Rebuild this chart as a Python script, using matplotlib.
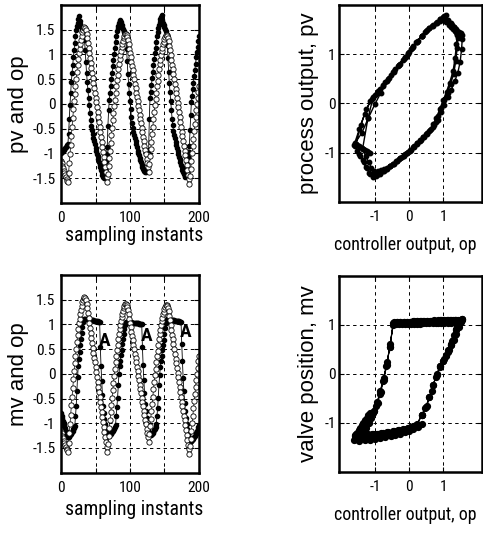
import numpy as np
import matplotlib
matplotlib.use("Agg")
import matplotlib.pyplot as plt
from matplotlib import font_manager

# Amostras (instantes de amostragem)
amostras = np.arange(0, 201)

# Saída do controlador (op)
op = [-1.15, -1.20, -1.25, -1.30, -1.35, -1.40, -1.44, -1.48, -1.52, -1.55, -1.58,
      -1.39, -1.20, -1.01, -0.83, -0.64, -0.46, -0.29, -0.11, 0.05, 0.21, 0.36, 0.51,
      0.65, 0.78, 0.91, 1.02, 1.12, 1.22, 1.30, 1.38,
      1.45, 1.50, 1.54, 1.55, 1.53, 1.49,
      1.42, 1.33, 1.23, 1.13, 1.03, 0.93, 0.83, 0.73, 0.63, 0.53, 0.43, 0.33, 0.23,
      0.13, 0.03, -0.07, -0.17, -0.27, -0.37, -0.47, -0.57, -0.67, -0.77, -0.87, -0.97,
      -1.07, -1.17, -1.27, -1.37, -1.47, -1.58,
      -1.42, -1.26, -1.10, -0.94, -0.78, -0.63, -0.48, -0.33, -0.18, -0.04, 0.09, 0.23,
      0.36, 0.48, 0.59, 0.70, 0.81, 0.90, 0.99, 1.07, 1.15, 1.22, 1.28, 1.33, 1.38,
      1.41, 1.42, 1.40, 1.36, 1.30,
      1.21, 1.12, 1.03, 0.94, 0.85, 0.77, 0.68, 0.59, 0.50, 0.41, 0.32, 0.23, 0.14,
      0.05, -0.04, -0.13, -0.22, -0.31, -0.39, -0.48, -0.57, -0.66, -0.75, -0.84, -0.93,
      -1.02, -1.11, -1.19, -1.28, -1.37,
      -1.21, -1.06, -0.91, -0.76, -0.60, -0.46, -0.31, -0.17, -0.03, 0.10, 0.23, 0.36,
      0.47, 0.59, 0.70, 0.80, 0.89, 0.98, 1.06, 1.14, 1.21, 1.26, 1.32, 1.36,
      1.39, 1.40, 1.38, 1.34, 1.28,
      1.18, 1.09, 0.99, 0.89, 0.79, 0.70, 0.60, 0.51, 0.41, 0.31, 0.22, 0.12, 0.02,
      -0.07, -0.17, -0.27, -0.36, -0.46, -0.56, -0.65, -0.75, -0.85, -0.94, -1.04, -1.14,
      -1.23, -1.33, -1.43, -1.52, -1.62,
      -1.46, -1.31, -1.15, -1.00, -0.85, -0.70, -0.55, -0.41, -0.27, -0.13, 0.00, 0.12,
      0.25, 0.36]

# Saída do processo (pv)
pv = [-1.00, -0.98, -0.96, -0.94, -0.92, -0.90, -0.88, -0.86, -0.84, -0.82, -0.80,
      -0.60, -0.30, -0.02, 0.22, 0.45, 0.63, 0.79, 0.95, 1.10, 1.24, 1.37, 1.49, 1.57,
      1.64, 1.71, 1.77,
      1.68, 1.61, 1.55, 1.50, 1.46, 1.43, 1.40,
      1.30, 1.10, 0.85, 0.62, 0.45, 0.28, 0.12, -0.03, -0.18, -0.33,
      -0.44, -0.53, -0.61, -0.68, -0.75, -0.81, -0.88, -0.95, -1.01, -1.06,
      -1.12, -1.18, -1.23, -1.28, -1.33, -1.38, -1.43, -1.47, -1.49, -1.42,
      -1.30, -1.16, -1.02, -0.87,
      -0.44, -0.12, 0.08, 0.22, 0.36, 0.50, 0.63, 0.76, 0.89, 1.01, 1.13, 1.25, 1.37,
      1.47, 1.54, 1.58, 1.63, 1.67, 1.69,
      1.65, 1.60, 1.55, 1.51, 1.48, 1.45, 1.42,
      1.32, 1.12, 0.86, 0.60, 0.40, 0.22, 0.06, -0.10, -0.26, -0.38,
      -0.48, -0.56, -0.63, -0.69, -0.75, -0.81, -0.87, -0.94, -0.99, -1.04,
      -1.09, -1.14, -1.18, -1.23, -1.27, -1.31, -1.34, -1.36, -1.38, -1.38,
      -1.31, -1.20, -1.07, -0.93,
      -0.30, 0.12, 0.25, 0.38, 0.52, 0.65, 0.78, 0.90, 1.02, 1.14, 1.25, 1.37, 1.46,
      1.54, 1.60, 1.66, 1.71, 1.76, 1.79,
      1.70, 1.64, 1.60, 1.55, 1.51, 1.48, 1.40,
      1.20, 0.92, 0.65, 0.42, 0.24, 0.06, -0.12, -0.30, -0.42, -0.55,
      -0.62, -0.69, -0.76, -0.82, -0.89, -0.96, -1.01, -1.07, -1.12, -1.17,
      -1.23, -1.28, -1.33, -1.38, -1.42, -1.46, -1.48, -1.43, -1.32, -1.20,
      -1.08, -0.97, -0.85,
      -0.52, -0.22, 0.04, 0.17, 0.30, 0.43, 0.57, 0.69, 0.81, 0.94, 1.05, 1.16, 1.27, 1.37]

# Posição da válvula (mv)
mv = [-0.80, -0.85, -0.90, -0.95, -1.00, -1.05, -1.10, -1.15, -1.20, -1.24, -1.28,
      -1.27, -1.25, -1.23, -1.21, -1.19, -1.17, -1.15, -1.12, -1.09, -1.05,
      -0.85, -0.66, -0.35, -0.06, 0.15, 0.30, 0.45, 0.58, 0.70, 0.82, 0.95, 1.05, 1.10,
      1.12, 1.12, 1.11, 1.11, 1.11, 1.10, 1.10, 1.10, 1.09, 1.09, 1.09, 1.08,
      1.08, 1.08, 1.07, 1.07, 1.07, 1.06, 1.06, 1.06, 1.05, 1.05, 1.04,
      0.55, 0.15, -0.15, -0.42, -0.65, -0.80, -0.92, -1.02, -1.11, -1.19, -1.26,
      -1.26, -1.25, -1.24, -1.22, -1.21, -1.19, -1.17, -1.15, -1.13, -1.11, -1.08, -1.04,
      -0.85, -0.68, -0.48, -0.22, 0.00, 0.15, 0.27, 0.38, 0.49, 0.60, 0.70, 0.80, 0.90,
      0.98, 1.04,
      1.05, 1.05, 1.05, 1.04, 1.04, 1.04, 1.04, 1.04, 1.03, 1.03, 1.03, 1.03,
      1.03, 1.02, 1.02, 1.02, 1.02, 1.02, 1.01, 1.01, 1.01, 1.01, 1.00,
      0.55, 0.18, -0.12, -0.38, -0.60, -0.76, -0.90, -1.01, -1.11, -1.20,
      -1.24, -1.24, -1.23, -1.22, -1.21, -1.19, -1.17, -1.14, -1.11, -1.07, -1.02,
      -0.85, -0.70, -0.48, -0.22, -0.02, 0.14, 0.26, 0.37, 0.48, 0.59, 0.68, 0.80, 0.92,
      1.02, 1.08,
      1.10, 1.10, 1.10, 1.09, 1.09, 1.09, 1.09, 1.08, 1.08, 1.08, 1.08,
      1.07, 1.07, 1.07, 1.07, 1.06, 1.06, 1.06, 1.05, 1.05, 1.05,
      0.60, 0.25, -0.08, -0.35, -0.58, -0.76, -0.90, -1.02, -1.12, -1.22, -1.30, -1.36,
      -1.37, -1.36, -1.35, -1.33, -1.31, -1.29, -1.27, -1.25, -1.22, -1.19, -1.16,
      -1.12, -1.08, -1.03]

# Marcas "A" nos saltos da válvula
marca_A_x = [63.5, 124, 181]
marca_A_y = [0.67, 0.77, 0.85]


def fonte_estreita():
    # procura uma sans estreita instalada; senão usa a normal
    fontes = font_manager.fontManager.ttflist
    nomes = {f.name for f in fontes}
    for nome in ['Roboto Condensed', 'Liberation Sans Narrow', 'Arial Narrow',
                 'Noto Sans Condensed', 'Open Sans Condensed', 'DejaVu Sans Condensed']:
        if nome in nomes:
            return nome, 'normal'
    for nome in ['Roboto', 'Liberation Sans', 'Noto Sans', 'Open Sans', 'DejaVu Sans']:
        for f in fontes:
            if f.name == nome and str(f.stretch) in ('condensed', 'semi-condensed',
                                                      'extra-condensed'):
                return nome, str(f.stretch)
    return 'Liberation Sans', 'normal'


familia, estiramento = fonte_estreita()
plt.rcParams['font.family'] = [familia, 'Liberation Sans', 'DejaVu Sans']
plt.rcParams['font.stretch'] = estiramento
fonte_v = ['Liberation Sans', 'DejaVu Sans']

fig = plt.figure(figsize=(4.83, 5.34), dpi=100)

# Tamanhos de fonte pela largura dos textos
renderer = fig.canvas.get_renderer()


def largura(texto, tam):
    t = fig.text(0, 0, texto, fontsize=tam)
    w = t.get_window_extent(renderer).width
    t.remove()
    return w


tam_tempo = min(16.5, 10 * 138 / largura('sampling instants', 10))
tam_op = min(16.5, 10 * 143 / largura('controller output, op', 10))
tam_tick = min(13.5, 10 * 23 / largura('-0.5', 10))


def prepara(ax, xlim, xticks, xrot, ylim, yticks, yrot, titulo_x, titulo_y,
            tam_x, pos_x, pos_y, pad_y):
    ax.set_xlim(*xlim)
    ax.set_ylim(*ylim)
    ax.set_xticks(xticks)
    ax.set_xticklabels(xrot)
    ax.set_yticks(yticks)
    ax.set_yticklabels(yrot)
    ax.tick_params(direction='in', length=3.5, width=0.8, top=True, right=True,
                   labelsize=tam_tick)
    ax.tick_params(axis='x', pad=6)
    ax.tick_params(axis='y', pad=pad_y)
    ax.grid(True, color='k', linestyle=(0, (3.5, 3.5)), linewidth=0.7)
    for s in ax.spines.values():
        s.set_linewidth(1.8)
    ax.set_xlabel(titulo_x, fontsize=tam_x)
    ax.xaxis.set_label_coords(*pos_x)
    ax.xaxis.label.set_va('center')
    ax.set_ylabel(titulo_y, fontsize=16, family=fonte_v, stretch='normal')
    ax.yaxis.set_label_coords(*pos_y)
    ax.yaxis.label.set_va('center')


ax_tl = fig.add_axes([0.1263, 0.6199, 0.2857, 0.3708])
ax_tr = fig.add_axes([0.7025, 0.6223, 0.2948, 0.3683])
ax_bl = fig.add_axes([0.1263, 0.1148, 0.2857, 0.3702])
ax_br = fig.add_axes([0.7025, 0.1167, 0.2948, 0.3665])

t_ticks = [0, 50, 100, 150, 200]
t_rot = ['0', '', '100', '', '200']
y_ticks = [-1.5, -1, -0.5, 0, 0.5, 1, 1.5]
y_rot = ['-1.5', '-1', '-0.5', '0', '0.5', '1', '1.5']

# pv e op no tempo
ax_tl.plot(amostras, pv, '-', color='k', lw=0.6, marker='o', ms=3, mfc='k', mec='k')
ax_tl.plot(amostras, op, '-', color='k', lw=0.5, marker='o', ms=3.8, mfc='white',
           mec='k', mew=0.6)
prepara(ax_tl, (0, 200), t_ticks, t_rot, (-2, 2), y_ticks, y_rot,
        'sampling instants', 'pv and op', tam_tempo, (0.53, -0.165), (-0.305, 0.5), 4)

# pv contra op
ax_tr.plot(op, pv, '-', color='k', lw=1.0, marker='o', ms=3.2, mfc='k', mec='k')
prepara(ax_tr, (-2.05, 2.12), [-1, 0, 1], ['-1', '0', '1'], (-2, 2), [-1, 0, 1],
        ['-1', '0', '1'], 'controller output, op', 'process output, pv', tam_op,
        (0.465, -0.22), (-0.215, 0.5), 2.5)

# mv e op no tempo
ax_bl.plot(amostras, mv, '-', color='k', lw=0.6, marker='o', ms=3, mfc='k', mec='k')
ax_bl.plot(amostras, op, '-', color='k', lw=0.5, marker='o', ms=3.8, mfc='white',
           mec='k', mew=0.6)
for xa, ya in zip(marca_A_x, marca_A_y):
    ax_bl.text(xa, ya, 'A', fontsize=14, fontweight='bold', ha='center', va='center')
prepara(ax_bl, (0, 200), t_ticks, t_rot, (-2, 2), y_ticks, y_rot,
        'sampling instants', 'mv and op', tam_tempo, (0.53, -0.187), (-0.305, 0.5), 4)

# mv contra op
ax_br.plot(op, mv, '-', color='k', lw=0.8, marker='o', ms=4.2, mfc='k', mec='k')
prepara(ax_br, (-2.05, 2.12), [-1, 0, 1], ['-1', '0', '1'], (-2, 2), [-1, 0, 1],
        ['-1', '0', '1'], 'controller output, op', 'valve position, mv', tam_op,
        (0.465, -0.22), (-0.215, 0.5), 2.5)

fig.savefig('out.png', dpi=100)
